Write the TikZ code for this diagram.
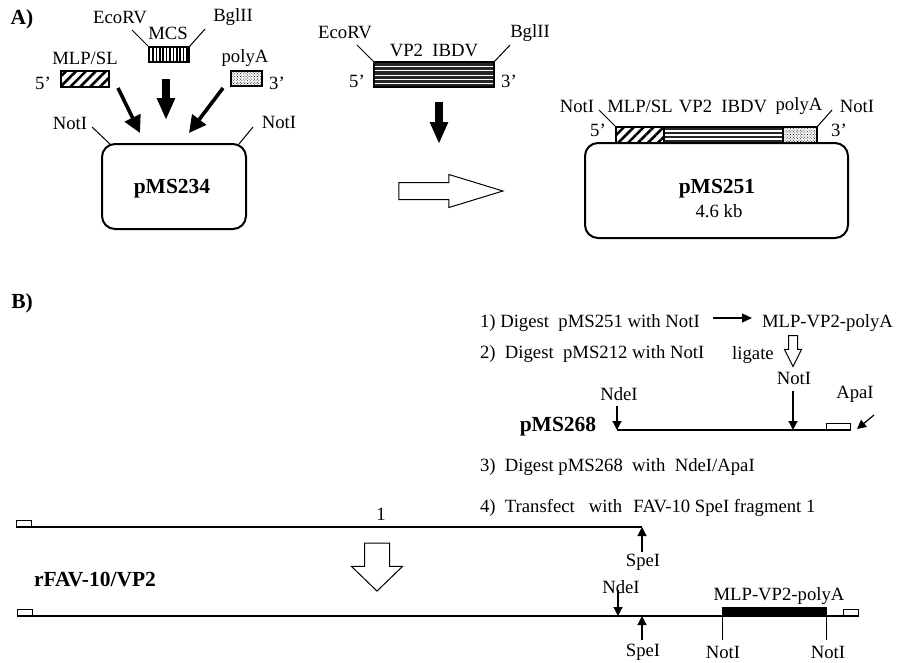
\documentclass[tikz,border=0pt]{standalone}
\usepackage{fontspec}
\setmainfont{Liberation Serif}
\usetikzlibrary{arrows.meta,positioning,shapes.arrows,patterns.meta}

\begin{document}
\begin{tikzpicture}[
  x=1pt, y=-1pt,
  every node/.style={font=\fontsize{18.7}{20}\selectfont, inner sep=0pt, outer sep=0pt, align=center},
  boldlabel/.style={font=\fontsize{21.5}{23}\selectfont\bfseries},
  steptext/.style={anchor=west},
  plasmid/.style={draw, line width=2pt, rounded corners=13pt},
  segment/.style={draw, line width=1.2pt},
  mlpfill/.style={segment, pattern={Lines[angle=45, distance=7pt, line width=2.6pt]}},
  mcsfill/.style={segment, pattern={Lines[angle=90, distance=3.4pt, line width=1.5pt]}},
  polyfill/.style={segment, pattern={Dots[angle=45, distance=2pt, radius=0.55pt]}},
  vpfill/.style={segment, fill=black!85},
  vpgap/.style={draw=white, line width=1.2pt},
  tagbox/.style={draw, line width=1pt, minimum width=15pt, minimum height=7pt},
  tick/.style={draw, line width=1pt},
  dna/.style={draw, line width=1.3pt},
  cut/.style={draw, line width=1.2pt, -{Triangle[length=9pt, width=9pt]}},
  slimblock/.style={draw, line width=3.6pt, -{Triangle[length=17pt, width=17pt]}},
  fatblock/.style={draw, line width=8.5pt, -{Triangle[length=22pt, width=17pt]}},
  openarrow/.style={draw, line width=1pt, single arrow, fill=white}
]
\useasboundingbox (0,0) rectangle (904,662);

% panel A, left
\node[boldlabel] (A) at (22,19) {A)};
\node (ecoL) at (120,18) {EcoRV};
\node (bglL) at (233,17) {BglII};
\node (mcsL) at (168,33) {MCS};
\node (mlpL) at (85,58) {MLP/SL};
\node (polyL) at (245,58) {polyA};
\node (fiveL) at (43,83) {5’};
\node (threeL) at (277,83) {3’};
\node[mcsfill, minimum width=40pt, minimum height=15pt] (mcs) at (169,54.5) {};
\node[mlpfill, minimum width=48pt, minimum height=16pt] (mlp) at (85,79) {};
\node[polyfill, minimum width=31pt, minimum height=15pt] (poly) at (246.5,78.5) {};
\coordinate (ecoT) at (132,30);
\coordinate (bglT) at (205,29);
\draw[tick] (mcs.north west) -- (ecoT);
\draw[tick] (mcs.north east) -- (bglT);
\coordinate (mlpS) at (118,88);
\coordinate (mlpE) at (140,133);
\coordinate (mcsS) at (166,79);
\coordinate (mcsE) at (166,120);
\coordinate (polyS) at (223,88);
\coordinate (polyE) at (189,133);
\draw[slimblock] (mlpS) -- (mlpE);
\draw[fatblock] (mcsS) -- (mcsE);
\draw[slimblock] (polyS) -- (polyE);
\node (notA) at (70,123) {NotI};
\node (notB) at (279,122) {NotI};
\node[plasmid, minimum width=144pt, minimum height=85pt] (p234) at (174,186.5) {};
\node[boldlabel] (p234L) at (172,188.5) {pMS234};
\coordinate (notAT) at (92,127);
\coordinate (notBT) at (253,127);
\coordinate (notAB) at (110,144);
\coordinate (notBB) at (239,144);
\draw[tick] (notAT) -- (notAB);
\draw[tick] (notBT) -- (notBB);

% panel A, middle
\node (ecoM) at (345,33) {EcoRV};
\node (bglM) at (530,33) {BglII};
\node (vpM) at (434,50) {VP2\ \ IBDV};
\node[vpfill, minimum width=120pt, minimum height=25pt] (vp) at (434,74.5) {};
\foreach \y in {66.5,70.8,75.1,79.4,83.7}
  \draw[vpgap] (375,\y) -- (493,\y);
\node (fiveM) at (357,81) {5’};
\node (threeM) at (509,81) {3’};
\coordinate (ecoMT) at (357,45);
\coordinate (bglMT) at (510,45);
\draw[tick] (vp.north west) -- (ecoMT);
\draw[tick] (vp.north east) -- (bglMT);
\coordinate (vpS) at (439,102);
\coordinate (vpE) at (439,144);
\draw[fatblock] (vpS) -- (vpE);
\node[openarrow, inner ysep=8pt, minimum height=104pt, minimum width=32pt, single arrow head extend=8pt, single arrow tip angle=34] (toP251) at (437,191) {};

% panel A, right
\node[plasmid, minimum width=263pt, minimum height=95pt] (p251) at (716.5,190.5) {};
\node[boldlabel] (p251L) at (717,188.5) {pMS251};
\node (sizeL) at (719,211) {4.6 kb};
\node[mlpfill, minimum width=48pt, minimum height=16pt] (sMlp) at (640,135) {};
\node[vpfill, minimum width=119pt, minimum height=16pt] (sVp) at (723.5,135) {};
\foreach \y in {131,135,139}
  \draw[vpgap] (665,\y) -- (782,\y);
\node[polyfill, minimum width=34pt, minimum height=16pt] (sPoly) at (800,135) {};
\node (notC) at (577,106) {NotI};
\node (sMlpL) at (640,106) {MLP/SL};
\node (sVpL) at (723,106) {VP2\ \ IBDV};
\node (sPolyL) at (799,106) {polyA};
\node (notD) at (857,106) {NotI};
\node (fiveR) at (598,130) {5’};
\node (threeR) at (839,130) {3’};
\coordinate (notCT) at (599,110);
\coordinate (notDT) at (832,110);
\draw[tick] (sMlp.north west) -- (notCT);
\draw[tick] (sPoly.north east) -- (notDT);

% panel B, steps
\node[boldlabel] (B) at (22,303) {B)};
\node[steptext] (s1) at (480,323.5) {1) Digest\ \ pMS251 with NotI};
\node[steptext] (s2) at (480,354.5) {2)\ \ Digest\ \ pMS212 with NotI};
\node[steptext] (prod) at (762,323.5) {MLP-VP2-polyA};
\node (lig) at (753,355) {ligate};
\coordinate (s1E) at (713,318);
\coordinate (prodW) at (752,318);
\draw[draw, line width=1.2pt, -{Triangle[length=10pt, width=9pt]}] (s1E) -- (prodW);
\node[openarrow, rotate=-90, inner ysep=4pt, minimum height=31pt, minimum width=16pt, single arrow head extend=4pt, single arrow tip angle=53] (toNot) at (793,346.5) {};
\node (notE) at (794,378) {NotI};
\node (ndeE) at (619,394) {NdeI};
\node (apaE) at (855,394) {ApaI};
\node[boldlabel] (p268) at (558,426.5) {pMS268};
\coordinate (p268A) at (617,430);
\coordinate (p268N) at (793,430);
\coordinate (p268B) at (850,430);
\draw[dna] (p268A) -- (p268B);
\node[tagbox, minimum width=24pt, anchor=south east] (tagE) at (p268B) {};
\coordinate (ndeS) at (617,406);
\coordinate (notS) at (793,391);
\coordinate (apaS) at (874,415);
\coordinate (apaT) at (857,429);
\draw[cut] (ndeS) -- (p268A);
\draw[cut] (notS) -- (p268N);
\draw[cut] (apaS) -- (apaT);
\node[steptext] (s3) at (480,467.5) {3)\ \ Digest pMS268\ \ with\ \ NdeI/ApaI};
\node[steptext] (s4) at (480,507.5) {4)\ \ Transfect\ \ \ with\ \ \hspace{2pt}FAV-10 SpeI fragment 1};

% panel B, genomes
\coordinate (favA) at (16,527);
\coordinate (favB) at (642,527);
\draw[dna] (favA) -- (favB);
\node[tagbox, anchor=south west] (tagA) at (favA) {};
\node (frag) at (381,514) {1};
\coordinate (speS) at (642,552);
\draw[cut] (speS) -- (favB);
\node (speA) at (643,562) {SpeI};
\node[openarrow, rotate=-90, inner ysep=12pt, minimum height=48pt, minimum width=50pt, single arrow head extend=13pt, single arrow tip angle=92] (toRec) at (377,561) {};
\node[boldlabel] (rec) at (95,580) {rFAV-10/VP2};
\coordinate (recA) at (17,616);
\coordinate (recB) at (858,616);
\draw[dna] (recA) -- (recB);
\node[tagbox, anchor=south west] (tagB) at (recA) {};
\node[tagbox, anchor=south east] (tagC) at (recB) {};
\node[draw, fill=black, minimum width=104pt, minimum height=9pt, anchor=south west] (ins) at (722,616) {};
\node (insL) at (779,596) {MLP-VP2-polyA};
\node (ndeF) at (621,587) {NdeI};
\coordinate (ndeFS) at (618,590);
\coordinate (ndeFE) at (618,616);
\draw[cut] (ndeFS) -- (ndeFE);
\coordinate (speFS) at (642,640);
\coordinate (speFE) at (642,616);
\draw[cut] (speFS) -- (speFE);
\node (speF) at (643,652) {SpeI};
\node (notF) at (723,652) {NotI};
\node (notG) at (828,652) {NotI};
\coordinate (notFS) at (722,640);
\coordinate (notGS) at (826,640);
\draw[tick] (notFS) -- (ins.south west);
\draw[tick] (notGS) -- (ins.south east);
\end{tikzpicture}
\end{document}
